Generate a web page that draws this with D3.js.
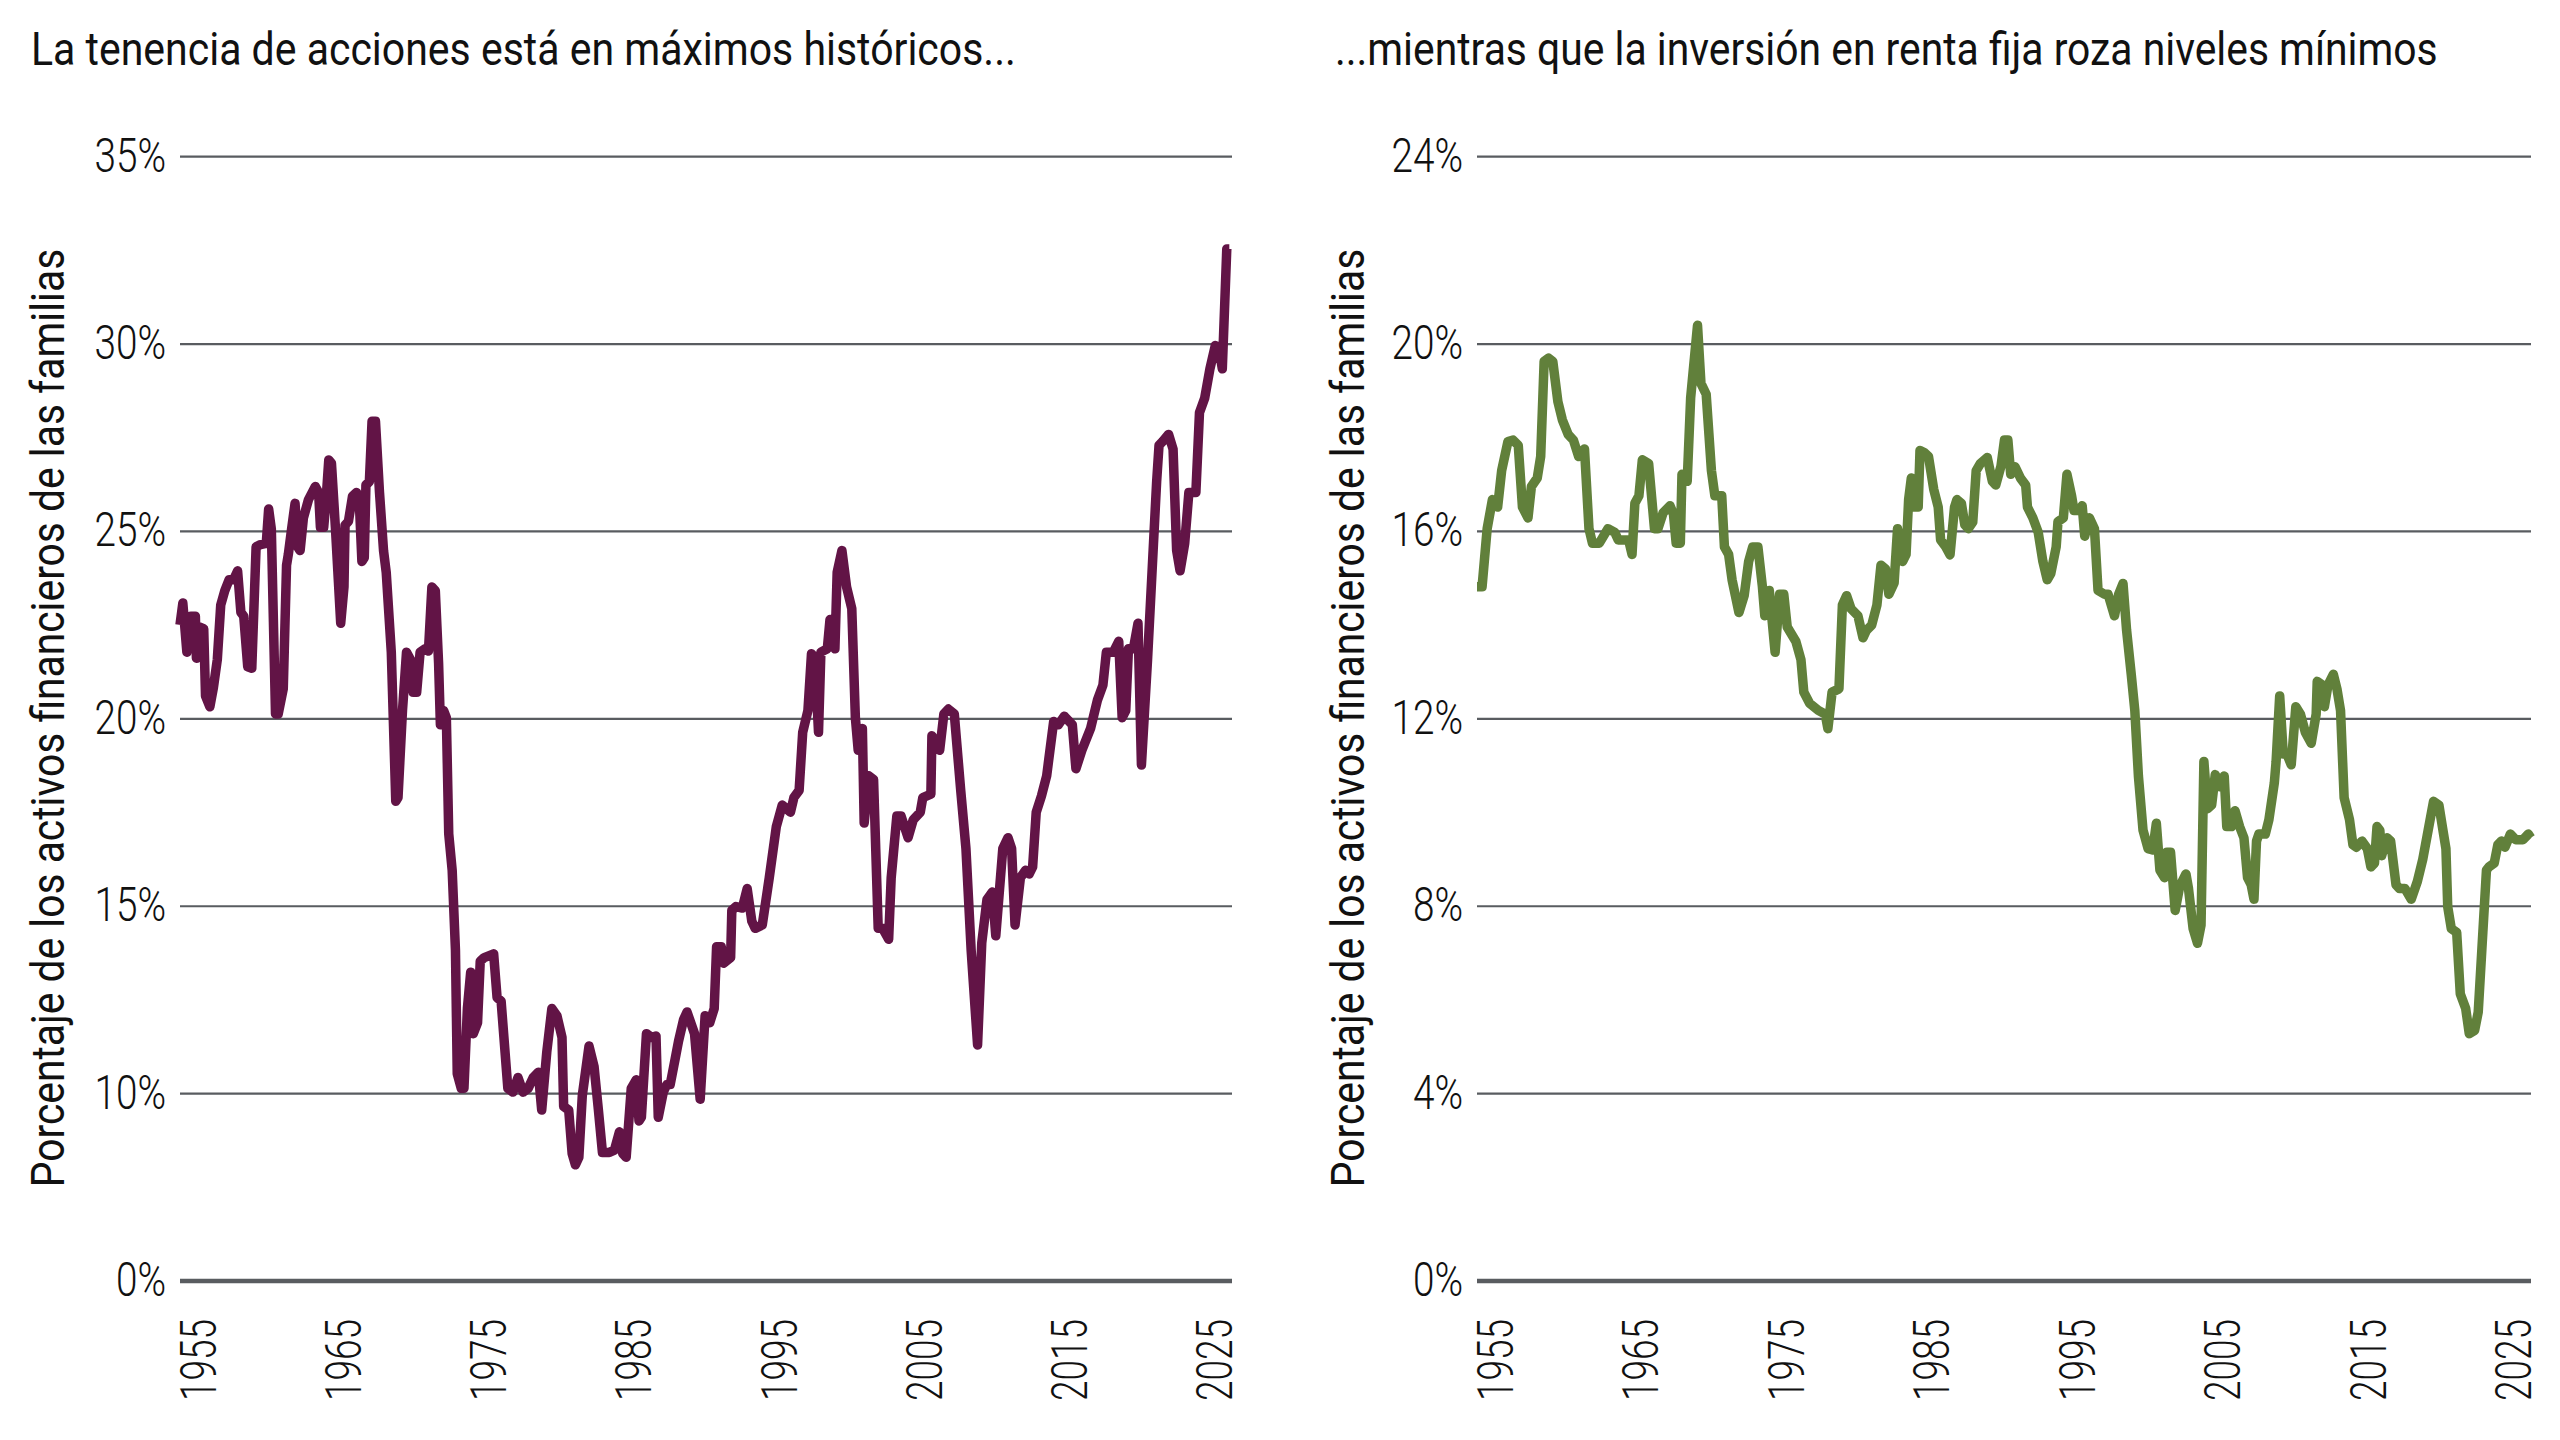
<!DOCTYPE html>
<html><head><meta charset="utf-8">
<script src="https://cdn.jsdelivr.net/npm/d3@7"></script>
<style>
html,body{margin:0;padding:0;background:#fff;}
svg{display:block;}
text{font-family:Roboto,"Liberation Sans",sans-serif;fill:#111;}
</style></head><body>
<svg id="chart" width="2560" height="1440"></svg>
<script>
// ---------- DATA ----------
const stockYears = [1955.0,1955.19,1955.46,1955.73,1956.03,1956.10,1956.32,1956.59,1956.71,1957.0,1957.23,1957.5,1957.73,1958.0,1958.29,1958.59,1958.86,1959.08,1959.27,1959.54,1959.81,1960.1,1960.4,1960.78,1960.94,1961.12,1961.4,1961.58,1961.92,1962.14,1962.26,1962.48,1962.71,1962.89,1963.05,1963.27,1963.61,1964.07,1964.29,1964.41,1964.63,1964.79,1964.97,1965.15,1965.42,1965.77,1965.99,1966.06,1966.29,1966.56,1966.83,1967.01,1967.19,1967.35,1967.46,1967.69,1967.87,1968.1,1968.37,1968.64,1968.82,1969.16,1969.46,1969.61,1969.91,1970.18,1970.45,1970.63,1970.86,1971.09,1971.43,1971.65,1971.88,1972.11,1972.33,1972.45,1972.67,1972.85,1973.01,1973.24,1973.46,1973.58,1973.85,1974.03,1974.26,1974.48,1974.66,1974.94,1975.12,1975.39,1976.02,1976.25,1976.52,1976.97,1977.31,1977.65,1977.99,1978.33,1978.67,1979.01,1979.24,1979.58,1979.92,1980.26,1980.6,1980.71,1981.05,1981.28,1981.5,1981.73,1981.96,1982.41,1982.75,1983.04,1983.31,1983.77,1984.11,1984.45,1984.67,1984.9,1985.24,1985.58,1985.76,1985.92,1986.26,1986.6,1986.9,1987.05,1987.39,1987.62,1987.85,1988.18,1988.41,1988.75,1988.98,1989.48,1989.86,1990.19,1990.5,1990.8,1990.96,1991.27,1991.44,1991.9,1991.98,1992.26,1992.68,1993.01,1993.32,1993.55,1994.02,1994.49,1994.96,1995.36,1995.91,1996.14,1996.49,1996.73,1997.08,1997.32,1997.55,1997.79,1997.95,1998.38,1998.56,1998.89,1999.04,1999.36,1999.67,2000.02,2000.26,2000.45,2000.73,2000.85,2001.15,2001.48,2001.79,2002.09,2002.49,2002.66,2003.04,2003.32,2003.79,2004.14,2004.61,2004.78,2005.32,2005.39,2005.91,2006.19,2006.49,2006.89,2007.32,2007.67,2008.02,2008.45,2008.73,2009.08,2009.44,2009.67,2010.14,2010.49,2010.73,2010.96,2011.32,2011.67,2011.91,2012.14,2012.38,2012.73,2013.08,2013.55,2013.86,2014.26,2014.8,2015.04,2015.44,2016.02,2016.49,2016.85,2017.08,2017.55,2017.91,2018.14,2018.38,2018.56,2018.89,2019.2,2019.43,2019.84,2020.14,2020.45,2020.61,2020.85,2021.25,2021.55,2021.79,2022.02,2022.33,2022.61,2023.08,2023.32,2023.67,2024.02,2024.38,2024.61,2024.85,2025.15,2025.32];
const stockValues = [22.51,23.09,21.78,22.74,22.74,21.62,22.45,22.40,20.61,20.32,20.81,21.58,23.04,23.42,23.71,23.71,23.95,22.84,22.74,21.39,21.35,24.59,24.65,24.68,25.6,25.07,20.13,20.13,20.8,24.1,24.39,25.07,25.75,24.59,24.49,25.36,25.85,26.2,26.04,25.11,25.11,25.85,26.91,26.82,25.07,22.55,23.52,25.17,25.27,25.94,26.04,25.85,24.2,24.3,26.24,26.33,27.94,27.94,26.04,24.49,23.91,21.78,17.8,17.9,20.22,21.78,21.58,20.71,20.71,21.78,21.87,21.81,23.52,23.42,21.48,19.84,20.22,20.03,16.93,15.96,13.82,10.53,10.14,10.14,12.27,13.24,11.6,11.89,13.53,13.63,13.73,12.56,12.47,10.14,10.04,10.43,10.04,10.14,10.43,10.57,9.56,11.11,12.27,12.08,11.5,9.66,9.56,8.4,8.1,8.3,9.95,11.27,10.72,9.56,8.43,8.43,8.49,8.98,8.4,8.3,10.14,10.37,9.27,9.37,11.6,11.5,11.54,9.37,10.04,10.24,10.24,10.92,11.4,11.98,12.18,11.6,9.85,12.08,11.89,12.27,13.92,13.92,13.48,13.63,14.89,14.99,14.95,15.47,14.6,14.41,14.5,15.76,17.12,17.7,17.51,17.9,18.09,19.64,20.22,21.74,21.58,19.64,21.78,21.87,22.65,21.87,23.91,24.49,23.52,22.94,20.03,19.16,19.74,17.22,18.48,18.38,14.41,14.41,14.12,15.76,17.41,17.41,16.83,17.31,17.51,17.9,17.99,19.55,19.16,20.13,20.26,20.13,18.09,16.54,13.82,11.3,14.02,15.18,15.38,14.21,16.54,16.83,16.54,14.5,15.76,15.96,15.86,16.05,17.51,17.94,18.48,19.93,19.84,20.07,19.84,18.67,19.16,19.74,20.51,20.9,21.78,21.78,22.07,20.03,20.22,21.87,21.87,22.55,18.77,21.58,23.91,26.33,27.3,27.4,27.59,27.2,24.49,23.95,24.68,26.04,26.04,28.17,28.56,29.34,29.96,29.92,29.34,32.54,32.54];

const bondYears = [1955.0,1955.34,1955.68,1956.03,1956.38,1956.65,1957.07,1957.41,1957.76,1958.04,1958.41,1958.64,1959.03,1959.26,1959.49,1959.79,1960.07,1960.41,1960.71,1961.1,1961.45,1961.8,1962.19,1962.49,1962.72,1963.18,1963.76,1964.22,1964.45,1965.14,1965.37,1965.56,1965.83,1966.06,1966.48,1966.87,1967.1,1967.45,1967.91,1968.14,1968.32,1968.6,1968.71,1969.06,1969.29,1969.75,1969.98,1970.33,1970.68,1970.91,1971.37,1971.55,1971.83,1972.06,1972.52,1972.87,1973.17,1973.44,1973.79,1974.09,1974.25,1974.55,1974.94,1975.24,1975.52,1975.75,1976.33,1976.67,1976.86,1977.25,1977.83,1978.29,1978.47,1978.75,1979.21,1979.44,1979.72,1980.02,1980.48,1980.82,1981.05,1981.4,1981.75,1982.02,1982.32,1982.55,1982.9,1983.13,1983.47,1983.7,1983.87,1984.05,1984.23,1984.51,1984.63,1984.93,1985.2,1985.55,1985.85,1986.01,1986.36,1986.64,1986.94,1987.1,1987.4,1987.63,1987.86,1988.16,1988.39,1988.67,1989.13,1989.47,1989.7,1990.05,1990.28,1990.51,1990.7,1990.99,1991.35,1991.7,1991.82,1992.18,1992.54,1992.85,1993.14,1993.38,1993.74,1993.86,1994.22,1994.46,1994.77,1994.93,1995.29,1995.48,1995.65,1995.96,1996.3,1996.54,1996.97,1997.21,1997.64,1997.92,1998.21,1998.45,1998.76,1999.0,1999.24,1999.55,1999.89,2000.2,2000.44,2000.68,2000.99,2001.15,2001.39,2001.7,2002.0,2002.42,2002.59,2002.9,2003.19,2003.43,2003.62,2003.86,2004.14,2004.38,2004.67,2004.98,2005.15,2005.46,2005.7,2006.01,2006.3,2006.54,2006.78,2006.97,2007.14,2007.3,2007.73,2007.97,2008.33,2008.45,2008.69,2008.93,2009.17,2009.46,2009.77,2010.08,2010.41,2010.8,2011.13,2011.2,2011.56,2011.68,2011.92,2012.28,2012.52,2012.76,2013.0,2013.36,2013.59,2013.83,2014.19,2014.55,2014.79,2015.03,2015.2,2015.39,2015.51,2015.87,2016.11,2016.47,2016.7,2017.06,2017.49,2017.9,2018.26,2018.62,2018.98,2019.34,2019.57,2019.81,2019.93,2020.17,2020.53,2020.77,2021.13,2021.37,2021.73,2021.97,2022.21,2022.52,2022.69,2023.04,2023.28,2023.52,2023.76,2024.12,2024.48,2024.96,2025.32,2025.48];
const bondValues = [14.82,14.82,16.06,16.68,16.52,17.3,17.92,17.95,17.84,16.52,16.29,16.96,17.14,17.6,19.63,19.7,19.63,18.77,18.38,18.07,17.95,17.6,17.76,16.06,15.75,15.75,16.06,15.98,15.82,15.82,15.51,16.6,16.76,17.53,17.45,16.06,16.06,16.4,16.55,16.37,15.75,15.75,17.22,17.07,18.85,20.4,19.16,18.93,17.3,16.76,16.76,15.67,15.51,14.97,14.27,14.63,15.36,15.67,15.67,14.82,14.2,14.74,13.42,14.66,14.66,13.96,13.65,13.26,12.57,12.33,12.18,12.1,11.79,12.57,12.64,14.43,14.63,14.35,14.2,13.73,13.89,14.0,14.43,15.28,15.2,14.66,14.9,16.06,15.36,15.51,16.68,17.14,16.52,16.52,17.73,17.68,17.6,16.9,16.52,15.82,15.67,15.5,16.52,16.68,16.6,16.14,16.06,16.2,17.3,17.45,17.58,17.07,16.99,17.4,17.95,17.95,17.22,17.38,17.14,16.99,16.52,16.29,15.98,15.36,14.97,15.1,15.67,16.21,16.29,17.22,16.76,16.45,16.45,16.55,15.9,16.29,16.06,14.74,14.66,14.66,14.2,14.66,14.89,13.89,12.95,12.18,10.78,9.62,9.23,9.2,9.77,8.77,8.61,9.15,9.15,7.91,8.42,8.69,8.38,7.52,7.21,7.6,11.09,10.08,10.16,10.81,10.55,10.78,9.7,9.7,10.04,9.7,9.46,8.61,8.46,8.15,9.39,9.54,9.54,9.85,10.63,11.09,12.49,11.25,11.25,11.02,12.26,12.1,11.71,11.48,12.1,12.8,12.72,12.26,12.72,12.95,12.64,12.18,10.32,9.85,9.31,9.26,9.39,9.23,8.84,8.92,9.7,9.62,9.08,9.46,9.39,8.46,8.38,8.38,8.15,8.53,9.0,9.62,10.24,10.16,9.7,9.23,7.99,7.52,7.44,6.13,5.82,5.28,5.35,5.74,7.06,8.77,8.84,8.92,9.31,9.39,9.26,9.54,9.42,9.42,9.54,9.46];

const xTickLabels = ["1955","1965","1975","1985","1995","2005","2015","2025"];
const stockTickValues = [5,10,15,20,25,30,35];   // axis break: bottom line is labelled 0%
const stockTickLabels = ["0%","10%","15%","20%","25%","30%","35%"];
const bondTickValues = [0,4,8,12,16,20,24];
const bondTickLabels = ["0%","4%","8%","12%","16%","20%","24%"];
const panelTitles = ["La tenencia de acciones está en máximos históricos...","...mientras que la inversión en renta fija roza niveles mínimos"];
const yAxisTitle = "Porcentaje de los activos financieros de las familias";

// ---------- LAYOUT ----------
const svg = d3.select("#chart");
const yTop = 156.7, yBottom = 1281;
const panels = [
  {x0:180, x1:1232, titleX:31, titleLen:985, ylabX:64, years:stockYears, values:stockValues,
   domain:[5,35], ticks:stockTickValues, tickLabels:stockTickLabels, color:"#621446", title:panelTitles[0]},
  {x0:1477, x1:2531, titleX:1335, titleLen:1103, ylabX:1364, years:bondYears, values:bondValues,
   domain:[0,24], ticks:bondTickValues, tickLabels:bondTickLabels, color:"#61803b", title:panelTitles[1]}
];

// squeeze a text horizontally (in its own reading direction) by a factor or to a target length
function squeeze(textNode, baseTransform, factorOrNull, target){
  const L = textNode.getComputedTextLength();
  const f = factorOrNull != null ? factorOrNull : target / L;
  textNode.setAttribute("transform", `${baseTransform} scale(${f.toFixed(4)},1)`);
}

panels.forEach(p => {
  const g = svg.append("g");
  const x = d3.scaleLinear().domain([1955, 2025.5]).range([p.x0, p.x1]);
  const y = d3.scaleLinear().domain(p.domain).range([yBottom, yTop]);
  const xLab = d3.scalePoint().domain(xTickLabels).range([p.x0 + 18, p.x1 - 18]);

  // gridlines
  g.selectAll("line.grid").data(p.ticks).join("line")
    .attr("x1", p.x0).attr("x2", p.x1)
    .attr("y1", d => y(d)).attr("y2", d => y(d))
    .attr("stroke", "#595c60")
    .attr("stroke-width", (d,i) => i === 0 ? 4.5 : 2.2);

  // y tick labels
  g.selectAll("text.ytick").data(p.ticks).join("text")
    .attr("text-anchor", "end")
    .style("font-size", "49px").style("font-weight", 300)
    .text((d,i) => p.tickLabels[i])
    .each(function(d){ squeeze(this, `translate(${p.x0 - 14},${y(d) + 15})`, 0.79); });

  // x tick labels (rotated)
  g.selectAll("text.xtick").data(xTickLabels).join("text")
    .attr("text-anchor", "end")
    .attr("dy", "0.36em")
    .style("font-size", "50px").style("font-weight", 300)
    .text(d => d)
    .each(function(d){ squeeze(this, `translate(${xLab(d)},1319) rotate(-90)`, 0.74); });

  // data line
  const pts = p.years.map((yr, i) => [yr, p.values[i]]);
  g.append("path").datum(pts)
    .attr("d", d3.line().x(d => x(d[0])).y(d => y(d[1])))
    .attr("fill", "none").attr("stroke", p.color)
    .attr("stroke-width", 9.5).attr("stroke-linejoin", "round");

  // title
  g.append("text")
    .style("font-size", "46px").style("font-weight", 400)
    .text(p.title)
    .each(function(){ squeeze(this, `translate(${p.titleX},65)`, null, p.titleLen); });

  // y axis title
  g.append("text")
    .attr("text-anchor", "middle")
    .style("font-size", "47px").style("font-weight", 400)
    .text(yAxisTitle)
    .each(function(){ squeeze(this, `translate(${p.ylabX},718) rotate(-90)`, null, 939); });
});
</script>
</body></html>
